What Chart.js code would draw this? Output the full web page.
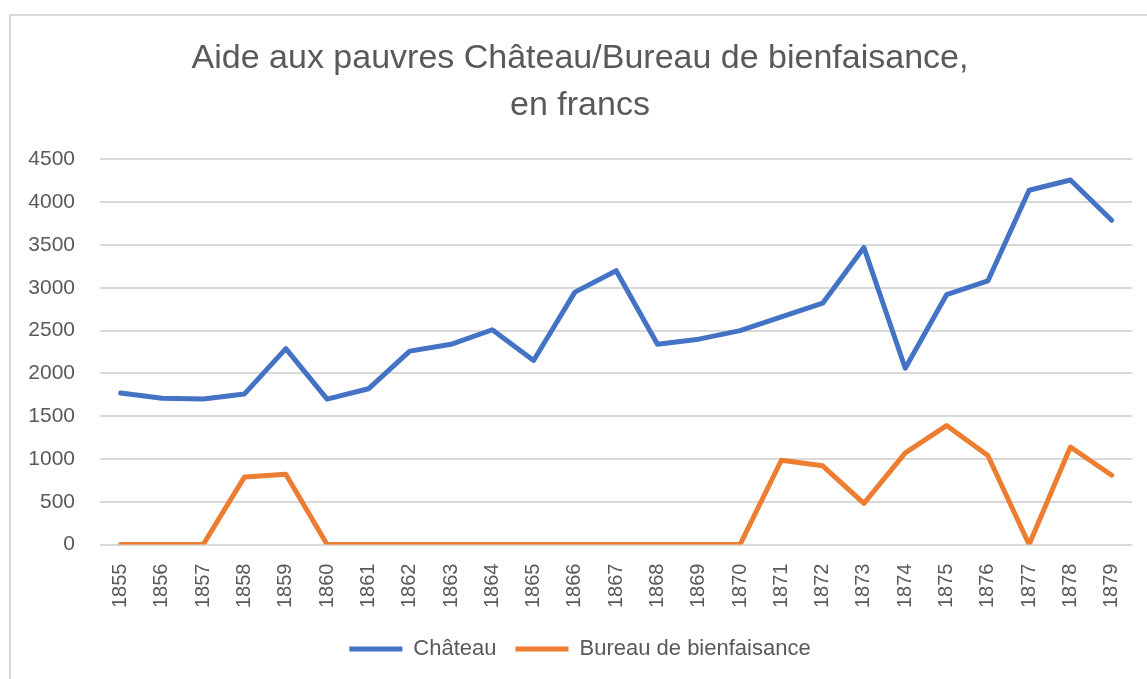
<!DOCTYPE html>
<html>
<head>
<meta charset="utf-8">
<script src="https://cdn.jsdelivr.net/npm/chart.js@4"></script>
<style>
  html, body { margin: 0; padding: 0; background: #fff; overflow: hidden; }
  #frame { position: absolute; left: 9px; top: 14px; width: 1200px; height: 700px;
           border-left: 2px solid #d9d9d9; border-top: 2px solid #d9d9d9; }
  #wrap { position: absolute; left: 0; top: 0; width: 1147px; height: 679px; }
</style>
</head>
<body>
<div id="frame"></div>
<div id="wrap"><canvas id="chart"></canvas></div>
<script>
const years = ['1855','1856','1857','1858','1859','1860','1861','1862','1863','1864','1865','1866',
  '1867','1868','1869','1870','1871','1872','1873','1874','1875','1876','1877','1878','1879']
const chateau = [1770, 1710, 1700, 1760, 2290, 1700, 1820, 2260, 2340, 2510, 2150, 2950,
  3200, 2340, 2400, 2500, 2660, 2820, 3470, 2060, 2920, 3080, 4140, 4260, 3790]
const bureau = [0, 0, 0, 790, 820, 0, 0, 0, 0, 0, 0, 0,
  0, 0, 0, 0, 985, 920, 480, 1070, 1390, 1040, 0, 1140, 810]
const titleLines = ['Aide aux pauvres Château/Bureau de bienfaisance,', 'en francs']

const FONT = "'Liberation Sans', Arial, sans-serif"
const grey = '#595959'

new Chart(document.getElementById('chart'), {
  type: 'line',
  data: {
    labels: years,
    datasets: [
      { label: 'Château', data: chateau, borderColor: '#4472C4', backgroundColor: '#4472C4',
        borderWidth: 5, pointRadius: 0, borderCapStyle: 'round', borderJoinStyle: 'round', tension: 0 },
      { label: 'Bureau de bienfaisance', data: bureau, borderColor: '#ED7D31', backgroundColor: '#ED7D31',
        borderWidth: 5, pointRadius: 0, borderCapStyle: 'round', borderJoinStyle: 'round', tension: 0 }
    ]
  },
  options: {
    responsive: true,
    maintainAspectRatio: false,
    animation: false,
    layout: { padding: { left: 27, right: 14, top: 0, bottom: 9 } },
    plugins: {
      title: {
        display: true, text: titleLines, color: grey,
        font: { family: FONT, size: 34, weight: 'normal', lineHeight: 1.36 },
        padding: { top: 36, bottom: 31 }
      },
      legend: {
        position: 'bottom',
        labels: {
          color: grey, font: { family: FONT, size: 22 }, boxWidth: 53, boxHeight: 5, padding: 19,
          generateLabels(chart) {
            const items = Chart.defaults.plugins.legend.labels.generateLabels(chart)
            items.forEach(it => { it.lineWidth = 0 })
            return items
          }
        }
      },
      tooltip: { enabled: false }
    },
    scales: {
      x: {
        offset: true,
        grid: { display: false },
        border: { display: false },
        ticks: { color: grey, font: { family: FONT, size: 20 }, minRotation: 90, maxRotation: 90, padding: 11 }
      },
      y: {
        min: 0, max: 4500,
        grid: { color: '#d9d9d9', lineWidth: 2, drawTicks: false },
        border: { display: false },
        ticks: { stepSize: 500, color: grey, font: { family: FONT, size: 21 }, padding: 25,
          callback: v => String(v) },
        afterFit(scale) { scale.width = 73 }
      }
    }
  }
})
</script>
</body>
</html>
